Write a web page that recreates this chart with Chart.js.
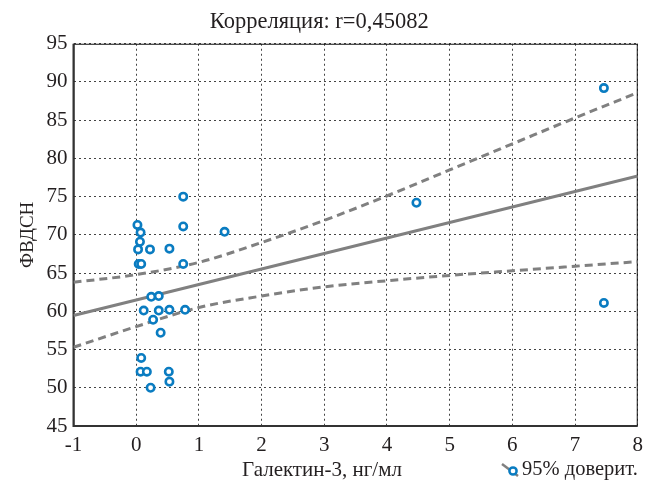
<!DOCTYPE html>
<html>
<head>
<meta charset="utf-8">
<script src="https://cdn.jsdelivr.net/npm/chart.js@4.4.1/dist/chart.umd.min.js"></script>
<style>
  body { margin: 0; background: #fff; }
  #wrap { width: 651px; height: 481px; }
</style>
</head>
<body>
<div id="wrap"><canvas id="chart" width="651" height="481"></canvas></div>
<script>
// Галектин-3 (x) vs ФВДСН (y)
const galectin = [0.75, 0.02, 0.07, 0.75, 1.41, 0.06, 0.03, 0.22, 0.53, 0.04,
                  0.08, 0.75, 0.24, 0.36, 0.12, 0.36, 0.53, 0.78, 0.27, 0.39,
                  0.08, 0.07, 0.17, 0.52, 0.53, 0.23, 4.47, 7.46, 7.46];
const fvdsn = [75.0, 71.3, 70.3, 71.1, 70.4, 69.1, 68.1, 68.1, 68.2, 66.2,
               66.2, 66.2, 61.9, 62.0, 60.1, 60.1, 60.2, 60.2, 58.9, 57.2,
               53.9, 52.1, 52.1, 52.1, 50.8, 50.0, 74.2, 89.2, 61.1];

// regression line ends
const fitX = [-1, 8];
const fitY = [59.45, 77.7];

// 95% confidence band
const bandX = [-1, 0, 1, 2, 3, 4, 5, 6, 7, 8];
const bandUpper = [63.8, 64.8, 66.4, 69.0, 71.9, 75.1, 78.5, 81.9, 85.3, 88.6];
const bandLower = [55.3, 58.0, 60.5, 62.0, 63.2, 64.0, 64.7, 65.3, 65.9, 66.5];

const xTicks = [-1, 0, 1, 2, 3, 4, 5, 6, 7, 8];
const yTicks = [45, 50, 55, 60, 65, 70, 75, 80, 85, 90, 95];

const titleText = 'Корреляция: r=0,45082';
const xTitle = 'Галектин-3, нг/мл';
const yTitle = 'ФВДСН';
const legendText = '95% доверит.';

const FONT = '"Liberation Serif", "Times New Roman", serif';
const TEXT = '#231f20';
const BLUE = '#0a7cc1';
const GRAY = '#808080';

function toXY(xs, ys) {
    return xs.map((x, i) => ({ x: x, y: ys[i] }));
}

// frame + bottom texts (x title sits on the same row as the legend)
const framePlugin = {
    id: 'frame',
    beforeDatasetsDraw(chart) {
        const a = chart.chartArea;
        const ctx = chart.ctx;
        ctx.save();
        ctx.strokeStyle = '#111';
        ctx.lineWidth = 1;
        ctx.strokeRect(a.left + 0.5, a.top + 0.5, a.right - a.left - 1, a.bottom - a.top - 1);
        ctx.lineWidth = 2;
        ctx.strokeStyle = '#333';
        ctx.beginPath();
        ctx.moveTo(a.left, a.top);
        ctx.lineTo(a.left, a.bottom);
        ctx.lineTo(a.right, a.bottom);
        ctx.stroke();
        ctx.restore();
    },
    afterDraw(chart) {
        const ctx = chart.ctx;
        ctx.save();
        ctx.fillStyle = TEXT;
        ctx.font = '21px ' + FONT;
        ctx.textBaseline = 'middle';
        ctx.textAlign = 'center';
        ctx.fillText(xTitle, 322, 470);

        // legend
        ctx.strokeStyle = GRAY;
        ctx.lineWidth = 2.5;
        ctx.beginPath();
        ctx.moveTo(502, 464);
        ctx.lineTo(518, 476);
        ctx.stroke();
        ctx.strokeStyle = BLUE;
        ctx.fillStyle = '#fff';
        ctx.lineWidth = 2.5;
        ctx.beginPath();
        ctx.arc(513, 471, 3.6, 0, Math.PI * 2);
        ctx.fill();
        ctx.stroke();
        ctx.fillStyle = TEXT;
        ctx.textAlign = 'left';
        ctx.font = '20.5px ' + FONT;
        ctx.fillText(legendText, 522, 470);
        ctx.restore();
    }
};

new Chart(document.getElementById('chart'), {
    type: 'scatter',
    data: {
        datasets: [
            {
                label: 'upper',
                data: toXY(bandX, bandUpper),
                showLine: true,
                borderColor: GRAY,
                borderWidth: 3,
                borderDash: [8, 5],
                pointRadius: 0,
                cubicInterpolationMode: 'monotone',
                order: 3
            },
            {
                label: 'lower',
                data: toXY(bandX, bandLower),
                showLine: true,
                borderColor: GRAY,
                borderWidth: 3,
                borderDash: [8, 5],
                pointRadius: 0,
                cubicInterpolationMode: 'monotone',
                order: 3
            },
            {
                label: 'fit',
                data: toXY(fitX, fitY),
                showLine: true,
                borderColor: GRAY,
                borderWidth: 3,
                pointRadius: 0,
                order: 2
            },
            {
                label: legendText,
                data: toXY(galectin, fvdsn),
                pointRadius: 3.7,
                pointBorderWidth: 2.6,
                pointBorderColor: BLUE,
                pointBackgroundColor: '#fff',
                order: 1
            }
        ]
    },
    options: {
        responsive: false,
        animation: false,
        layout: { padding: { left: 0, right: 12.5, top: 0, bottom: 0 } },
        plugins: {
            legend: { display: false },
            tooltip: { enabled: false },
            title: {
                display: true,
                text: titleText,
                color: TEXT,
                font: { family: FONT, size: 22.5, weight: 'normal', lineHeight: 1.1 },
                padding: { top: 10, bottom: 9 }
            }
        },
        scales: {
            x: {
                type: 'linear',
                min: -1,
                max: 8,
                afterBuildTicks: (s) => { s.ticks = xTicks.map(v => ({ value: v })); },
                afterFit: (s) => { s.height = 55; },
                border: { display: false, dash: [2, 3] },
                grid: {
                    color: '#444',
                    lineWidth: 1,
                    drawTicks: false
                },
                ticks: {
                    color: TEXT,
                    padding: 8,
                    font: { family: FONT, size: 21, lineHeight: 1.1 }
                }
            },
            y: {
                min: 45,
                max: 95,
                afterBuildTicks: (s) => { s.ticks = yTicks.map(v => ({ value: v })); },
                afterFit: (s) => { s.width = 73.5; },
                border: { display: false, dash: [2, 3] },
                grid: {
                    color: '#444',
                    lineWidth: 1,
                    drawTicks: false
                },
                ticks: {
                    color: TEXT,
                    padding: 6,
                    font: { family: FONT, size: 21 }
                },
                title: {
                    display: true,
                    text: yTitle,
                    color: TEXT,
                    font: { family: FONT, size: 19 },
                    padding: { top: 17, bottom: 0 }
                }
            }
        }
    },
    plugins: [framePlugin]
});
</script>
</body>
</html>
